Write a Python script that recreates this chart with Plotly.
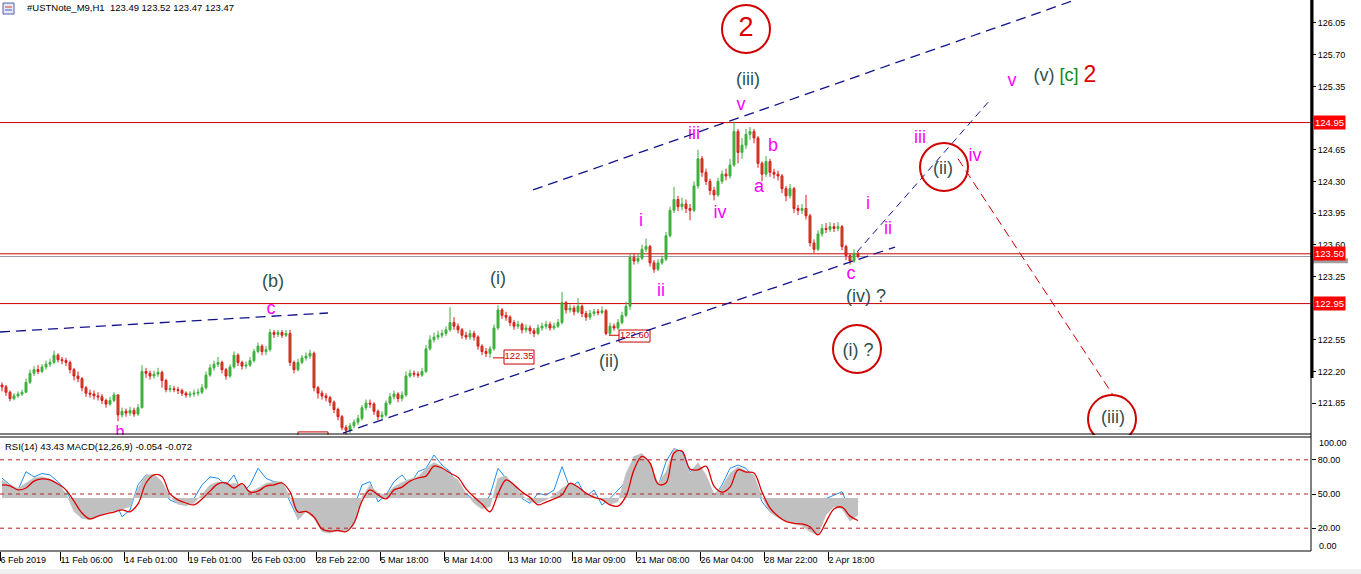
import plotly.graph_objects as go

# ---------------- DATA ----------------
SYMBOL_HEADER = "#USTNote_M9,H1  123.49 123.52 123.47 123.47"
IND_HEADER = "RSI(14) 43.43 MACD(12,26,9) -0.054 -0.072"

first_open = 122.05
closes = [
    122.03, 121.97, 121.90, 121.93, 121.95, 121.97, 122.08, 122.18, 122.22, 122.20, 122.25, 122.28, 122.30, 122.38, 122.33, 122.32,
    122.30, 122.22, 122.15, 122.12, 122.02, 121.96, 121.95, 121.93, 121.92, 121.88, 121.84, 121.88, 121.94, 121.72, 121.76, 121.74,
    121.77, 121.73, 121.80, 122.20, 122.18, 122.15, 122.17, 122.19, 122.10, 122.00, 122.01, 122.00, 121.99, 121.96, 121.94, 121.95,
    121.96, 121.97, 122.02, 122.16, 122.24, 122.28, 122.30, 122.22, 122.15, 122.25, 122.38, 122.30, 122.26, 122.27, 122.32, 122.42,
    122.48, 122.42, 122.44, 122.63, 122.61, 122.63, 122.60, 122.62, 122.30, 122.22, 122.30, 122.35, 122.37, 122.40, 122.02, 121.96,
    121.93, 121.91, 121.86, 121.78, 121.70, 121.58, 121.55, 121.60, 121.64, 121.68, 121.80, 121.85, 121.84, 121.76, 121.70, 121.72,
    121.85, 121.92, 121.95, 121.90, 121.94, 122.15, 122.18, 122.17, 122.16, 122.20, 122.45, 122.55, 122.58, 122.60, 122.62, 122.66,
    122.74, 122.70, 122.66, 122.60, 122.58, 122.62, 122.58, 122.48, 122.42, 122.40, 122.45, 122.68, 122.88, 122.82, 122.80, 122.74,
    122.70, 122.72, 122.66, 122.68, 122.65, 122.62, 122.68, 122.70, 122.72, 122.68, 122.70, 122.74, 122.96, 122.88, 122.90, 122.86,
    122.92, 122.84, 122.80, 122.84, 122.86, 122.85, 122.87, 122.62, 122.70, 122.68, 122.74, 122.82, 122.92, 123.46, 123.42, 123.45,
    123.55, 123.58, 123.40, 123.33, 123.40, 123.44, 123.70, 123.98, 124.10, 124.02, 124.05, 124.00, 123.98, 124.25, 124.55, 124.40,
    124.30, 124.20, 124.15, 124.30, 124.38, 124.36, 124.48, 124.85, 124.62, 124.70, 124.82, 124.85, 124.78, 124.50, 124.38, 124.52,
    124.40, 124.38, 124.36, 124.22, 124.14, 124.22, 124.00, 123.98, 124.00, 123.92, 123.62, 123.55, 123.72, 123.78, 123.77, 123.80,
    123.78, 123.80, 123.58, 123.48, 123.42, 123.50, 123.47,
]
highs = [
    122.08, 122.05, 121.99, 121.96, 121.98, 122.00, 122.12, 122.22, 122.26, 122.27, 122.28, 122.32, 122.34, 122.43, 122.40, 122.36,
    122.35, 122.32, 122.24, 122.20, 122.14, 122.04, 122.00, 121.99, 121.97, 121.95, 121.90, 121.92, 121.97, 121.95, 121.80, 121.79,
    121.81, 121.80, 121.84, 122.27, 122.24, 122.21, 122.21, 122.24, 122.21, 122.12, 122.05, 122.04, 122.03, 122.01, 121.98, 121.98,
    122.00, 122.01, 122.06, 122.20, 122.28, 122.32, 122.36, 122.32, 122.24, 122.28, 122.42, 122.40, 122.32, 122.31, 122.36, 122.45,
    122.52, 122.50, 122.48, 122.67, 122.66, 122.66, 122.66, 122.66, 122.66, 122.32, 122.34, 122.38, 122.41, 122.44, 122.42, 122.04,
    121.99, 121.96, 121.93, 121.88, 121.80, 121.72, 121.61, 121.63, 121.67, 121.72, 121.83, 121.89, 121.89, 121.86, 121.78, 121.76,
    121.88, 121.96, 121.99, 121.97, 121.98, 122.20, 122.22, 122.21, 122.20, 122.24, 122.49, 122.60, 122.63, 122.65, 122.66, 122.70,
    122.91, 122.80, 122.73, 122.68, 122.64, 122.66, 122.65, 122.60, 122.50, 122.46, 122.48, 122.72, 122.93, 122.90, 122.86, 122.82,
    122.77, 122.76, 122.74, 122.72, 122.71, 122.68, 122.72, 122.74, 122.76, 122.75, 122.74, 122.78, 123.08, 122.98, 122.94, 122.93,
    123.01, 122.94, 122.87, 122.88, 122.89, 122.89, 122.92, 122.89, 122.74, 122.73, 122.78, 122.86, 122.97, 123.50, 123.50, 123.50,
    123.60, 123.67, 123.60, 123.43, 123.44, 123.48, 123.74, 124.02, 124.24, 124.14, 124.12, 124.10, 124.05, 124.30, 124.65, 124.58,
    124.44, 124.33, 124.24, 124.34, 124.42, 124.44, 124.55, 124.96, 124.88, 124.78, 124.88, 124.90, 124.88, 124.80, 124.52, 124.58,
    124.55, 124.44, 124.42, 124.38, 124.25, 124.27, 124.24, 124.04, 124.05, 124.15, 123.94, 123.66, 123.76, 123.83, 123.84, 123.85,
    123.84, 123.85, 123.82, 123.60, 123.50, 123.55, 123.52,
]
lows = [
    121.98, 121.93, 121.87, 121.88, 121.91, 121.93, 121.96, 122.06, 122.15, 122.17, 122.18, 122.22, 122.25, 122.28, 122.30, 122.28,
    122.26, 122.18, 122.10, 122.08, 121.98, 121.92, 121.91, 121.89, 121.88, 121.84, 121.80, 121.82, 121.86, 121.65, 121.69, 121.70,
    121.71, 121.70, 121.71, 121.79, 122.13, 122.11, 122.12, 122.14, 122.02, 121.97, 121.97, 121.97, 121.95, 121.93, 121.91, 121.91,
    121.92, 121.93, 121.95, 122.00, 122.14, 122.21, 122.25, 122.18, 122.11, 122.13, 122.23, 122.26, 122.22, 122.23, 122.25, 122.30,
    122.40, 122.38, 122.38, 122.42, 122.57, 122.58, 122.57, 122.58, 122.26, 122.18, 122.20, 122.28, 122.32, 122.34, 121.98, 121.90,
    121.89, 121.87, 121.82, 121.74, 121.66, 121.55, 121.50, 121.52, 121.57, 121.61, 121.66, 121.77, 121.80, 121.72, 121.66, 121.67,
    121.70, 121.83, 121.89, 121.86, 121.87, 121.92, 122.13, 122.14, 122.13, 122.14, 122.18, 122.43, 122.52, 122.55, 122.57, 122.59,
    122.64, 122.66, 122.62, 122.56, 122.55, 122.55, 122.54, 122.44, 122.38, 122.36, 122.35, 122.43, 122.66, 122.78, 122.76, 122.70,
    122.66, 122.67, 122.62, 122.63, 122.61, 122.58, 122.60, 122.65, 122.67, 122.65, 122.66, 122.68, 122.72, 122.84, 122.85, 122.82,
    122.84, 122.80, 122.76, 122.77, 122.81, 122.82, 122.83, 122.60, 122.60, 122.65, 122.66, 122.72, 122.80, 122.88, 123.38, 123.39,
    123.43, 123.52, 123.36, 123.29, 123.31, 123.38, 123.42, 123.68, 123.95, 123.97, 123.98, 123.95, 123.87, 123.96, 124.22, 124.35,
    124.26, 124.15, 124.09, 124.13, 124.27, 124.31, 124.33, 124.46, 124.50, 124.55, 124.66, 124.76, 124.72, 124.45, 124.30, 124.35,
    124.35, 124.33, 124.31, 124.17, 124.08, 124.11, 123.95, 123.93, 123.94, 123.88, 123.58, 123.51, 123.53, 123.69, 123.73, 123.74,
    123.74, 123.75, 123.54, 123.43, 123.38, 123.40, 123.45,
]

# indicator window (sampled every 2 bars)
rsi = [
    64, 58, 53.5, 69.6, 65, 68, 66.7, 60.8, 53.5, 38.9, 28.7, 33, 31.6, 34.5, 46, 30,
    36, 58, 66.7, 65, 53.5, 44.7, 41.8, 40.4, 46, 58, 65, 63.8, 58, 66.7, 50.6, 58,
    72.5, 63.8, 60.8, 59.4, 43.2, 28.7, 43.2, 34.5, 25.7, 20, 21.3, 18.4, 37.5, 58, 60.8, 43.2,
    49, 60.8, 66.7, 58, 69.6, 72.5, 84.2, 75.4, 69.6, 55, 50.6, 44.7, 37.5, 49, 72.5, 63.8,
    58, 46, 41.8, 50.6, 49, 53.5, 74, 55, 60.8, 47.6, 53.5, 40.4, 46, 53.5, 60.8, 82.7,
    84.2, 66.7, 56.4, 78.3, 90, 87, 69.6, 75.4, 65, 47.6, 58, 72.5, 75.4, 72.5, 63.8, 43.2,
    34.5, 30, 43.2, 28.7, 25.7, 18.4, 43.2, 46, 49, 52, 36, 43.43,
]
macd = [
    0.058, 0.042, 0.031, 0.047, 0.065, 0.068, 0.061, 0.047, 0.015, -0.044, -0.065, -0.070, -0.054, -0.046, -0.042, -0.035,
    -0.028, 0.031, 0.074, 0.076, 0.052, 0.004, -0.020, -0.025, -0.017, 0.012, 0.042, 0.052, 0.042, 0.047, 0.042, 0.020,
    0.031, 0.047, 0.052, 0.052, 0.004, -0.070, -0.044, -0.065, -0.108, -0.113, -0.102, -0.108, -0.086, 0.004, 0.042, 0.015,
    0.010, 0.036, 0.050, 0.061, 0.068, 0.095, 0.114, 0.100, 0.074, 0.058, 0.015, -0.017, -0.035, -0.028, 0.063, 0.071,
    0.042, 0.010, -0.012, -0.017, -0.006, 0.010, 0.031, 0.047, 0.036, 0.015, 0.007, -0.006, -0.020, -0.012, 0.079, 0.132,
    0.143, 0.111, 0.047, 0.084, 0.159, 0.143, 0.079, 0.114, 0.074, 0.012, 0.036, 0.079, 0.100, 0.086, 0.074, 0.004,
    -0.046, -0.063, -0.074, -0.083, -0.089, -0.108, -0.118, -0.054, -0.028, -0.035, -0.074, -0.054,
]
macd_signal = [
    0.042, 0.039, 0.026, 0.032, 0.054, 0.061, 0.058, 0.045, 0.026, -0.010, -0.048, -0.067, -0.058, -0.051, -0.045, -0.038,
    -0.044, -0.019, 0.048, 0.074, 0.069, 0.013, -0.006, -0.016, -0.022, -0.003, 0.022, 0.045, 0.048, 0.032, 0.046, 0.019,
    0.022, 0.038, 0.042, 0.048, 0.020, -0.045, -0.043, -0.061, -0.099, -0.106, -0.104, -0.108, -0.080, -0.010, 0.026, 0.010,
    -0.003, 0.026, 0.035, 0.054, 0.064, 0.070, 0.102, 0.096, 0.080, 0.066, 0.029, 0.003, -0.019, -0.044, 0.013, 0.058,
    0.042, 0.019, 0.002, -0.022, -0.013, -0.003, 0.010, 0.047, 0.035, 0.016, 0.002, -0.005, -0.022, -0.026, 0.006, 0.090,
    0.133, 0.112, 0.045, 0.048, 0.144, 0.150, 0.093, 0.090, 0.102, 0.038, 0.019, 0.035, 0.090, 0.083, 0.080, 0.019,
    -0.032, -0.058, -0.075, -0.081, -0.083, -0.092, -0.118, -0.077, -0.035, -0.029, -0.058, -0.072,
]

time_labels = ["6 Feb 2019", "11 Feb 06:00", "14 Feb 01:00", "19 Feb 01:00", "26 Feb 03:00", "28 Feb 22:00",
               "5 Mar 18:00", "8 Mar 14:00", "13 Mar 10:00", "18 Mar 09:00", "21 Mar 08:00", "26 Mar 04:00",
               "28 Mar 22:00", "2 Apr 18:00"]
price_ticks = [126.05, 125.70, 125.35, 125.00, 124.65, 124.30, 123.95, 123.60, 123.25, 122.90, 122.55, 122.20, 121.85]
hidden_ticks = [125.00, 122.90]          # covered by the level-price boxes
level_lines = [124.95, 123.50, 122.95]
bid_price = 123.47
rsi_levels = [80, 50, 20]

# ---------------- LAYOUT GEOMETRY ----------------
W, H = 1361, 574
ML, MR, MT, MB = 0, 50, 0, 23
PW, PH = W - ML - MR, H - MT - MB          # 1311 x 551
HOURS_PER_BAR = 4
SLOTS = PW                                  # one hourly slot per pixel
bar_x = [HOURS_PER_BAR * i + 2 for i in range(len(closes))]
opens = [first_open] + closes[:-1]
ind_x = [2 * HOURS_PER_BAR * i + 2 for i in range(len(rsi))]
tick_slots = [0] + [60 + 64 * j for j in range(len(time_labels) - 1)]

MAIN_TOP, MAIN_BOT = 126.304, 121.498
main_dom = [(PH - 435) / PH, 1.0]
ind_dom = [0.0, (PH - 437) / PH]

def py(pix):   # paper y from pixel row
    return (PH - pix) / PH

SLATE, MAG, RED, GREEN, NAVY = "#2f4f4f", "#ff00ff", "#dd0000", "#0a8a0a", "#12128c"
FONT = "Liberation Sans"

fig = go.Figure()

fig.add_trace(go.Candlestick(
    x=bar_x, open=opens, high=highs, low=lows, close=closes,
    increasing=dict(line=dict(color="#3cb03c", width=1), fillcolor="#3cb03c"),
    decreasing=dict(line=dict(color="#e01818", width=1), fillcolor="#9a6a2a"),
    whiskerwidth=0, xaxis="x", yaxis="y", showlegend=False, hoverinfo="skip"))

fig.add_trace(go.Scatter(x=ind_x, y=rsi, mode="lines", line=dict(color="#1e8ff0", width=1),
                         xaxis="x", yaxis="y2", showlegend=False, hoverinfo="skip"))
fig.add_trace(go.Scatter(x=ind_x, y=macd, mode="lines", fill="tozeroy", fillcolor="#c0c0c0",
                         line=dict(color="#c0c0c0", width=0.5), xaxis="x", yaxis="y3",
                         showlegend=False, hoverinfo="skip"))
fig.add_trace(go.Scatter(x=ind_x, y=macd_signal, mode="lines", line=dict(color=RED, width=1.3, shape="spline"),
                         xaxis="x", yaxis="y3", showlegend=False, hoverinfo="skip"))

# wave labels (clipped to the price panel)
wave = [
    ("2", 746, 125.98, RED, 27), ("(iii)", 748, 125.42, SLATE, 18), ("v", 741, 125.14, MAG, 18),
    ("iii", 694, 124.82, MAG, 18), ("b", 773, 124.68, MAG, 18), ("a", 759, 124.23, MAG, 18),
    ("iv", 720, 123.94, MAG, 18), ("i", 641, 123.86, MAG, 18), ("ii", 661, 123.08, MAG, 18),
    ("c", 851, 123.27, MAG, 18), ("(iv) ?", 866, 123.02, SLATE, 18), ("(i) ?", 858, 122.42, SLATE, 18),
    ("i", 868, 124.04, MAG, 18), ("ii", 888, 123.77, MAG, 18), ("iii", 920, 124.77, MAG, 18),
    ("(ii)", 943, 124.43, SLATE, 18), ("iv", 975, 124.57, MAG, 18), ("v", 1012, 125.40, MAG, 18),
    ("(v)", 1044, 125.46, SLATE, 18), ("[c]", 1069, 125.46, GREEN, 18), ("2", 1090, 125.46, RED, 23),
    ("(iii)", 1113, 121.685, SLATE, 18), ("(i)", 498, 123.22, SLATE, 18), ("(ii)", 609, 122.30, SLATE, 18),
    ("(b)", 273, 123.18, SLATE, 18), ("c", 271, 122.89, MAG, 18), ("b", 120, 121.52, MAG, 16),
]
for t, x, y, c, s in wave:
    fig.add_trace(go.Scatter(x=[x], y=[y], mode="text", text=[t], textposition="middle center",
                             textfont=dict(color=c, size=s, family=FONT), cliponaxis=True,
                             xaxis="x", yaxis="y", showlegend=False, hoverinfo="skip"))

# price label boxes
boxes = [("122.35", 504, 534, 122.437, 122.282, 493), ("122.60", 619, 650, 122.658, 122.525, 609)]
for t, x0, x1, y0, y1, lx in boxes:
    fig.add_trace(go.Scatter(x=[(x0 + x1) / 2], y=[(y0 + y1) / 2], mode="text", text=[t],
                             textfont=dict(color="#cc0000", size=9.5, family=FONT),
                             xaxis="x", yaxis="y", showlegend=False, hoverinfo="skip"))

shapes = []
for lv in level_lines:
    shapes.append(dict(type="line", xref="x", yref="y", x0=0, x1=SLOTS, y0=lv, y1=lv,
                       line=dict(color="#cc0000", width=1), layer="below"))
shapes.append(dict(type="line", xref="x", yref="y", x0=0, x1=SLOTS, y0=bid_price, y1=bid_price,
                   line=dict(color="#9a9aa8", width=1), layer="below"))
# trend lines
for (x0, y0, x1, y1, col, w, dash) in [
    (0, 122.636, 328, 122.846, NAVY, 1.3, "10px,6px"),
    (343, 121.52, 895, 123.575, NAVY, 1.3, "10px,6px"),
    (533, 124.205, 1075, 126.304, NAVY, 1.3, "10px,6px"),
    (857, 123.52, 990, 125.199, NAVY, 1, "7px,5px"),
    (958, 124.55, 1113, 121.94, "#cc0000", 1, "9px,5px"),
]:
    shapes.append(dict(type="line", xref="x", yref="y", x0=x0, y0=y0, x1=x1, y1=y1,
                       line=dict(color=col, width=w, dash=dash)))
# circles
for (x0, x1, y0, y1) in [(722, 770, 125.719, 126.249), (920, 968, 124.194, 124.724),
                         (833, 881, 122.183, 122.713), (1088, 1136, 121.409, 121.939)]:
    shapes.append(dict(type="circle", xref="x", yref="y", x0=x0, x1=x1, y0=y0, y1=y1,
                       line=dict(color="#d00000", width=2)))
for t, x0, x1, y0, y1, lx in boxes:
    shapes.append(dict(type="rect", xref="x", yref="y", x0=x0, x1=x1, y0=y0, y1=y1,
                       line=dict(color="#cc0000", width=1), fillcolor="white", layer="below"))
    yy = float(t)
    shapes.append(dict(type="line", xref="x", yref="y", x0=lx, x1=x0, y0=yy, y1=yy,
                       line=dict(color="#cc0000", width=1)))
shapes.append(dict(type="rect", xref="x", yref="y", x0=298, x1=328, y0=121.38, y1=121.532,
                   line=dict(color="#cc0000", width=1)))
# indicator levels
for lv in rsi_levels:
    shapes.append(dict(type="line", xref="x", yref="y2", x0=0, x1=SLOTS, y0=lv, y1=lv,
                       line=dict(color="#b22222", width=1, dash="4px,4px")))
# bid marker (mostly hidden under the 123.50 box)
shapes.append(dict(type="rect", xref="paper", yref="y", x0=1 + 2 / PW, x1=1 + 37 / PW,
                   y0=bid_price - 0.075, y1=bid_price - 0.02, line=dict(width=0), fillcolor="#a0a0a0"))
# frame
shapes += [
    dict(type="line", xref="paper", yref="paper", x0=0, x1=1, y0=py(434), y1=py(434), line=dict(color="black", width=1)),
    dict(type="line", xref="paper", yref="paper", x0=0, x1=1, y0=py(437), y1=py(437), line=dict(color="black", width=1)),
    dict(type="line", xref="paper", yref="paper", x0=0, x1=1, y0=0, y1=0, line=dict(color="black", width=1)),
    dict(type="line", xref="paper", yref="paper", x0=1, x1=1, y0=0, y1=1, line=dict(color="black", width=1)),
    dict(type="line", xref="paper", yref="paper", x0=1 + 1 / PW, x1=1 + 1 / PW, y0=py(378), y1=1,
         line=dict(color="black", width=3)),
    dict(type="rect", xref="paper", yref="paper", x0=0, x1=W / PW, y0=py(569), y1=py(574),
         line=dict(width=0), fillcolor="#f0f0f0"),
    # header icon
    dict(type="rect", xref="paper", yref="paper", x0=3 / PW, x1=14 / PW, y0=py(14), y1=py(3),
         line=dict(color="#5060a8", width=1), fillcolor="#e8e8f4"),
    dict(type="line", xref="paper", yref="paper", x0=5 / PW, x1=12 / PW, y0=py(7), y1=py(7), line=dict(color="#d04040", width=1)),
    dict(type="line", xref="paper", yref="paper", x0=5 / PW, x1=12 / PW, y0=py(10), y1=py(10), line=dict(color="#4060c0", width=1)),
]

annotations = [
    dict(text=SYMBOL_HEADER, xref="paper", yref="paper", x=25 / PW, y=py(8), xanchor="left", yanchor="middle",
         showarrow=False, font=dict(size=9.5, color="black", family=FONT)),
    dict(text=IND_HEADER, xref="paper", yref="paper", x=3 / PW, y=py(446), xanchor="left", yanchor="middle",
         showarrow=False, font=dict(size=9.5, color="black", family=FONT)),
    dict(text="100.00", xref="paper", yref="paper", x=1 + 6 / PW, y=py(443), xanchor="left", yanchor="middle",
         showarrow=False, font=dict(size=9, color="black", family=FONT)),
    dict(text="0.00", xref="paper", yref="paper", x=1 + 6 / PW, y=py(546), xanchor="left", yanchor="middle",
         showarrow=False, font=dict(size=9, color="black", family=FONT)),
]
for lv in level_lines:
    annotations.append(dict(text=f"{lv:.2f}", xref="paper", yref="y", x=1 + 2 / PW, y=lv, xanchor="left",
                            yanchor="middle", showarrow=False, bgcolor="#ff0000", borderpad=1,
                            font=dict(size=9.5, color="white", family=FONT)))

fig.update_layout(
    width=W, height=H, margin=dict(l=ML, r=MR, t=MT, b=MB, autoexpand=False),
    paper_bgcolor="white", plot_bgcolor="white", showlegend=False,
    font=dict(family=FONT, size=9, color="black"),
    xaxis=dict(domain=[0, 1], anchor="y2", range=[0, SLOTS], tickvals=tick_slots, ticktext=time_labels,
               ticks="outside", ticklen=9, tickcolor="black", ticklabelposition="outside right",
               showgrid=False, zeroline=False, showline=False, rangeslider=dict(visible=False),
               tickfont=dict(size=9, family=FONT), fixedrange=True),
    yaxis=dict(domain=main_dom, anchor="x", side="right", range=[MAIN_BOT, MAIN_TOP],
               tickvals=price_ticks,
               ticktext=["" if v in hidden_ticks else f"{v:.2f}" for v in price_ticks], ticks="outside",
               ticklen=4, tickcolor="black", showgrid=False, zeroline=False, showline=False,
               tickfont=dict(size=9, family=FONT), automargin=False, fixedrange=True),
    yaxis2=dict(domain=ind_dom, anchor="x", side="right", range=[0, 100], tickvals=rsi_levels,
                ticktext=[f"{v:.2f}" for v in rsi_levels], ticks="outside", ticklen=4, tickcolor="black",
                showgrid=False, zeroline=False, showline=False, tickfont=dict(size=9, family=FONT),
                automargin=False, fixedrange=True),
    yaxis3=dict(overlaying="y2", range=[-0.1696, 0.1952], visible=False, fixedrange=True),
    shapes=shapes, annotations=annotations,
)

fig.write_html("out.html", config={"displayModeBar": False},
               post_script="document.body.style.margin='0';document.body.style.overflow='hidden';")
